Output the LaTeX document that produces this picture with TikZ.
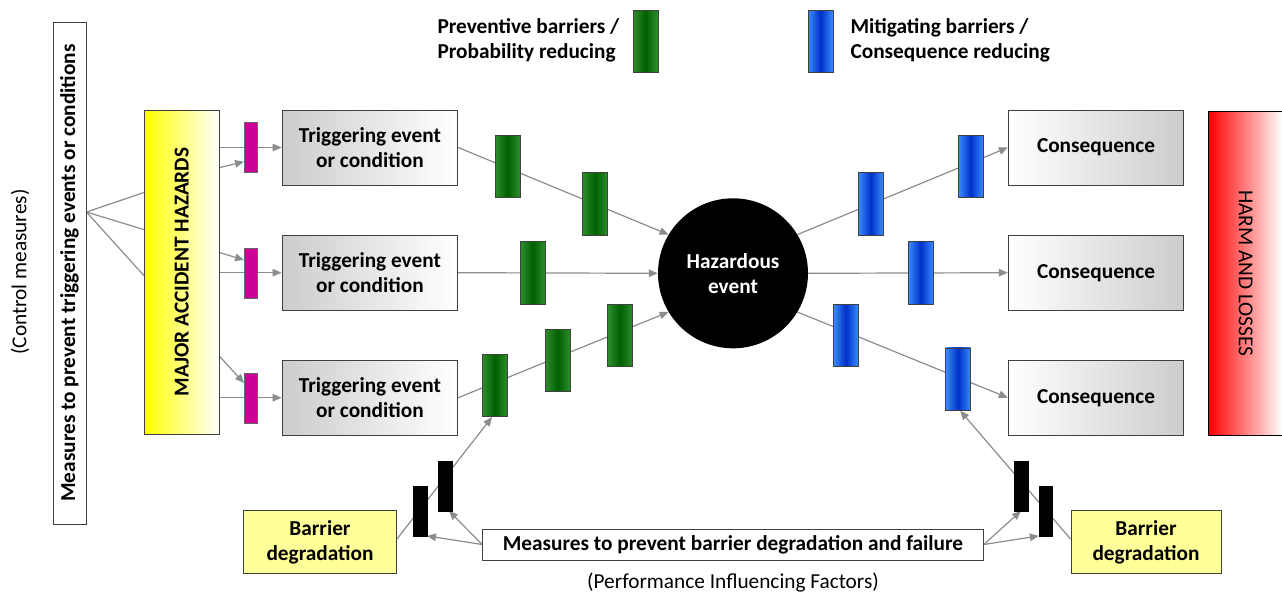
\documentclass[tikz,border=0pt]{standalone}
\usepackage{fontspec}
\setmainfont{Carlito}
\usetikzlibrary{arrows.meta,calc,backgrounds}

\definecolor{linegray}{HTML}{8C8C8C}
\definecolor{boxline}{HTML}{404040}
\definecolor{trigshade}{HTML}{CCCCCC}
\definecolor{paleyellow}{HTML}{FFFF99}
\definecolor{magbar}{HTML}{CC0099}
\definecolor{greenedge}{HTML}{2E8E2E}
\definecolor{greenmid}{HTML}{006000}
\definecolor{blueedge}{HTML}{3A8CFF}
\definecolor{bluemid}{HTML}{0030C8}

\begin{document}
\begin{tikzpicture}[x=1pt,y=-1pt,
  lbl/.style={font=\bfseries\fontsize{21.3}{25}\selectfont, align=center, text=black},
  plain/.style={font=\fontsize{21.3}{25}\selectfont},
  box/.style={draw=boxline, line width=0.9pt, inner sep=0pt, lbl},
  trig/.style={box, minimum width=175.7pt, minimum height=75pt, left color=trigshade, right color=white},
  cons/.style={box, minimum width=175.4pt, minimum height=75pt, left color=white, right color=trigshade},
  degr/.style={box, fill=paleyellow, minimum height=62.6pt},
  pbar/.style={draw=black!75, line width=0.6pt, inner sep=0pt, minimum width=25pt, minimum height=62.5pt,
    left color=greenedge, right color=greenedge, middle color=greenmid},
  mbar/.style={draw=black!75, line width=0.6pt, inner sep=0pt, minimum width=25pt, minimum height=62.5pt,
    left color=blueedge, right color=blueedge, middle color=bluemid},
  hbar/.style={draw=black!60, line width=0.6pt, fill=magbar, inner sep=0pt, minimum width=13.4pt, minimum height=50pt},
  kbar/.style={draw=black, fill=black, inner sep=0pt, minimum width=13.5pt, minimum height=50pt},
  conn/.style={draw=linegray, line width=1.2pt},
  arr/.style={conn, -{Triangle[length=9pt,width=7.5pt]}},
]
\useasboundingbox (0,0) rectangle (1282,595);
\clip (0,0) rectangle (1282,595);

% legend
\node[lbl, align=left, anchor=west] (legp) at (434,40.5) {Preventive barriers /\\Probability reducing};
\node[pbar, minimum height=62pt] (legpb) at (645.5,41) {};
\node[mbar, minimum height=62pt] (legmb) at (820.5,41) {};
\node[lbl, align=left, anchor=west] (legm) at (847,40.5) {Mitigating barriers /\\Consequence reducing};

% control measures on the left
\node[plain, rotate=90] (ctrl) at (20,272) {(Control measures)};
\node[box, fill=white, rotate=90, minimum width=502pt, minimum height=33pt] (meas) at (69.5,273)
  {Measures to prevent triggering events or conditions};

% hazards and harm
\node[draw=boxline, line width=0.9pt, left color=yellow, right color=white, inner sep=0pt,
  minimum width=75pt, minimum height=324pt,
  label={[lbl, rotate=90]center:MAJOR ACCIDENT HAZARDS}] (mah) at (181.8,272) {};
\node[draw=black, line width=0.9pt, left color=red, right color=white, inner sep=0pt,
  minimum width=73.8pt, minimum height=323.3pt,
  label={[plain, rotate=-90]center:HARM AND LOSSES}] (harm) at (1245.6,273.3) {};

% triggering events
\node[trig] (trig1) at (369.9,147.5) {Triggering event\\or condition};
\node[trig] (trig2) at (369.9,272.7) {Triggering event\\or condition};
\node[trig] (trig3) at (369.9,397.7) {Triggering event\\or condition};

% consequences
\node[cons] (cons1) at (1096,147.5) {Consequence};
\node[cons] (cons2) at (1096,272.7) {Consequence};
\node[cons] (cons3) at (1096,397.7) {Consequence};

% hazardous event
\node[circle, fill=black, minimum size=150pt, inner sep=0pt, lbl, text=white] (haz) at (733,273.3) {Hazardous\\event};

% barrier degradation
\node[degr, minimum width=153pt] (bd1) at (320,542) {Barrier\\degradation};
\node[degr, minimum width=150pt] (bd2) at (1146,542) {Barrier\\degradation};
\node[box, fill=white, minimum width=500.7pt, minimum height=31pt] (meas2) at (733,544.5)
  {Measures to prevent barrier degradation and failure};
\node[plain] (pif) at (733,583) {(Performance Influencing Factors)};

% hazard barriers
\node[hbar] (m1) at (251,147.7) {};
\node[hbar] (m2) at (251,273) {};
\node[hbar] (m3) at (251,398) {};

% preventive barriers
\node[pbar] (g1) at (507.5,166.3) {};
\node[pbar] (g2) at (595.2,203.8) {};
\node[pbar] (g3) at (532.7,272.8) {};
\node[pbar] (g4) at (495,385.5) {};
\node[pbar] (g5) at (557.7,360.5) {};
\node[pbar] (g6) at (620.2,335.3) {};

% mitigating barriers
\node[mbar] (b1) at (870.8,203.8) {};
\node[mbar] (b2) at (970.8,166.3) {};
\node[mbar] (b3) at (920.8,272.8) {};
\node[mbar] (b4) at (845.8,335.3) {};
\node[mbar] (b5) at (958.2,379.2) {};

% degradation barriers
\node[kbar] (k1) at (420,510.7) {};
\node[kbar] (k2) at (445,485.7) {};
\node[kbar] (k3) at (1021,485.7) {};
\node[kbar] (k4) at (1045.8,510.7) {};

\begin{scope}[on background layer]
  % control measures fan
  \coordinate (apex) at ($(meas.south)+(0,-61)$);
  \draw[conn] (apex) -- ($(mah.north west)+(0,83)$);
  \draw[conn] (apex) -- ($(mah.north west)+(0,120)$);
  \draw[conn] (apex) -- ($(mah.north west)+(0,166)$);
  % hazards to triggering events
  \draw[arr] (mah.east |- trig1.west) -- (trig1.west);
  \draw[arr] (mah.east |- trig2.west) -- (trig2.west);
  \draw[arr] (mah.east |- trig3.west) -- (trig3.west);
  \draw[arr] ($(mah.north east)+(0,58)$) -- ($(m1.west)+(0,14)$);
  \draw[arr] ($(mah.north east)+(0,143)$) -- ($(m2.west)+(0,-13)$);
  \draw[arr] ($(mah.north east)+(0,247)$) -- ($(m3.west)+(0,-15)$);
  % triggering events to hazardous event
  \draw[arr] (trig1.east) -- (haz.149);
  \draw[arr] (trig2.east) -- (haz.west);
  \draw[arr] (trig3.east) -- (haz.211);
  % hazardous event to consequences
  \draw[arr] (haz.31) -- (cons1.west);
  \draw[arr] (haz.east) -- (cons2.west);
  \draw[arr] (haz.329) -- (cons3.west);
  % barrier degradation
  \draw[arr] ($(bd1.east)+(0,-3)$) -- ($(g4.south)+(-3,0)$);
  \draw[arr] ($(bd2.west)+(0,-3)$) -- ($(b5.south)+(2,0)$);
  \draw[arr] (meas2.west) -- (k1.south east);
  \draw[arr] (meas2.west) -- ($(k2.south)+(4,0)$);
  \draw[arr] (meas2.east) -- (k3.south);
  \draw[arr] (meas2.east) -- (k4.south west);
\end{scope}
\end{tikzpicture}
\end{document}
